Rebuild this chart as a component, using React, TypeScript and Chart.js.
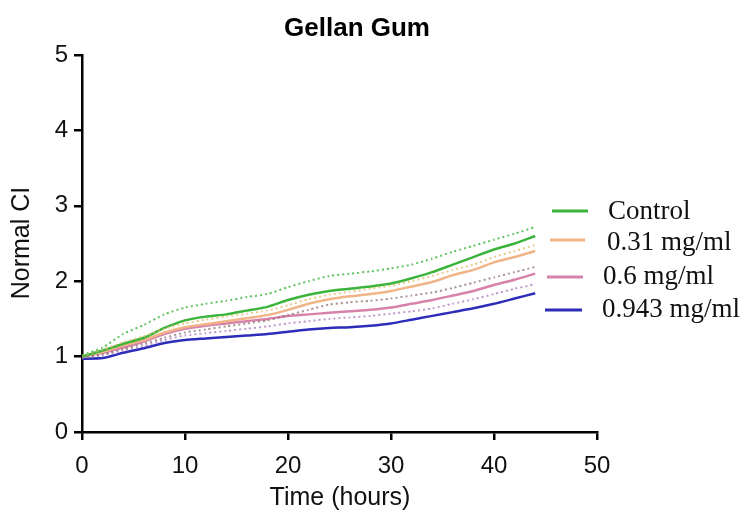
import React, { useEffect, useRef } from "react";
import { Chart, registerables } from "chart.js";

Chart.register(...registerables);

const hours = [0, 2, 4, 6, 8, 10, 12, 14, 16, 18, 20, 22, 24, 26, 28, 30, 32, 34, 36, 38, 40, 42, 44];

const controlMean = [1.0, 1.08, 1.17, 1.25, 1.38, 1.48, 1.53, 1.56, 1.61, 1.66, 1.75, 1.82, 1.87, 1.9, 1.93, 1.97, 2.04, 2.12, 2.22, 2.32, 2.42, 2.5, 2.6];
const controlUpper = [1.02, 1.12, 1.3, 1.42, 1.56, 1.65, 1.7, 1.74, 1.79, 1.83, 1.92, 2.0, 2.07, 2.1, 2.13, 2.17, 2.22, 2.3, 2.39, 2.47, 2.55, 2.63, 2.72];
const c031Mean = [1.0, 1.06, 1.15, 1.22, 1.32, 1.39, 1.43, 1.47, 1.51, 1.55, 1.62, 1.7, 1.76, 1.8, 1.83, 1.87, 1.93, 1.99, 2.08, 2.15, 2.25, 2.32, 2.4];
const c031Upper = [1.01, 1.09, 1.19, 1.27, 1.37, 1.44, 1.49, 1.53, 1.57, 1.61, 1.68, 1.76, 1.82, 1.86, 1.9, 1.94, 2.0, 2.07, 2.15, 2.22, 2.32, 2.4, 2.48];
const c031Lower = [0.98, 1.03, 1.1, 1.17, 1.25, 1.32, 1.36, 1.4, 1.44, 1.48, 1.55, 1.62, 1.69, 1.72, 1.74, 1.77, 1.81, 1.85, 1.91, 1.98, 2.05, 2.12, 2.19];
const c06Mean = [1.0, 1.05, 1.12, 1.2, 1.3, 1.37, 1.41, 1.44, 1.47, 1.5, 1.54, 1.56, 1.58, 1.6, 1.62, 1.65, 1.7, 1.75, 1.81, 1.87, 1.95, 2.02, 2.1];
const c06Lower = [0.98, 1.02, 1.08, 1.14, 1.22, 1.28, 1.31, 1.34, 1.37, 1.4, 1.44, 1.47, 1.5, 1.52, 1.54, 1.57, 1.6, 1.64, 1.7, 1.76, 1.83, 1.9, 1.96];
const c0943Mean = [0.97, 0.98, 1.05, 1.11, 1.18, 1.22, 1.24, 1.26, 1.28, 1.3, 1.33, 1.36, 1.38, 1.39, 1.41, 1.44, 1.49, 1.54, 1.59, 1.64, 1.7, 1.77, 1.84];

const xTicks = [0, 10, 20, 30, 40, 50];
const yTicks = [0, 1, 2, 3, 4, 5];

const legendLabels = ["Control", "0.31 mg/ml", "0.6 mg/ml", "0.943 mg/ml"];
const GREEN = "rgb(60,180,60)";
const ORANGE = "rgb(240,180,135)";
const PINK = "rgb(215,130,170)";
const BLUE = "rgb(45,45,185)";
const legendColors = [GREEN, ORANGE, PINK, BLUE];

const pts = (arr: number[]) => arr.map((v, i) => ({ x: hours[i], y: v }));

const overlay = {
  id: "overlay",
  afterDraw(chart: any) {
    const ctx = chart.ctx;
    ctx.save();
    ctx.fillStyle = "#000";
    ctx.textAlign = "center";
    ctx.textBaseline = "middle";
    ctx.font = "bold 26px 'Liberation Sans', Arial, sans-serif";
    ctx.fillText("Gellan Gum", 349, 21);
    ctx.fillStyle = "#111";
    ctx.font = "25px 'Liberation Sans', Arial, sans-serif";
    ctx.fillText("Time (hours)", 332, 490);
    ctx.save();
    ctx.translate(14, 235);
    ctx.rotate(-Math.PI / 2);
    ctx.fillText("Normal CI", 0, 0);
    ctx.restore();
    // legend
    const rows = [
      { ly: 203, x0: 544, x1: 580, tx: 600, ty: 204 },
      { ly: 232, x0: 542, x1: 577, tx: 599, ty: 235 },
      { ly: 269, x0: 539, x1: 575, tx: 595, ty: 269 },
      { ly: 302, x0: 537, x1: 574, tx: 594, ty: 302 },
    ];
    ctx.textAlign = "left";
    ctx.font = "27px 'Liberation Serif', 'Times New Roman', serif";
    rows.forEach((r, i) => {
      ctx.strokeStyle = legendColors[i];
      ctx.lineWidth = 3;
      ctx.beginPath();
      ctx.moveTo(r.x0, r.ly);
      ctx.lineTo(r.x1, r.ly);
      ctx.stroke();
      ctx.fillStyle = "#111";
      ctx.fillText(legendLabels[i], r.tx, r.ty);
    });
    ctx.restore();
  },
};

export default function App() {
  const ref = useRef<HTMLCanvasElement>(null);
  useEffect(() => {
    if (!ref.current) return;
    const solid = (data: number[], color: string) => ({
      data: pts(data),
      borderColor: color,
      borderWidth: 2.5,
      pointRadius: 0,
      fill: false,
      tension: 0.2,
    });
    const dotted = (data: number[], color: string) => ({
      data: pts(data),
      borderColor: color,
      borderWidth: 2,
      borderDash: [2, 3],
      pointRadius: 0,
      fill: false,
      tension: 0.2,
    });
    const chart = new Chart(ref.current, {
      type: "line",
      data: {
        datasets: [
          dotted(controlUpper, "rgba(60,180,60,0.8)"),
          dotted(c031Upper, "rgba(225,190,110,0.8)"),
          dotted(c031Lower, "rgba(140,110,110,0.75)"),
          dotted(c06Lower, "rgba(170,120,190,0.75)"),
          solid(controlMean, GREEN),
          solid(c031Mean, ORANGE),
          solid(c06Mean, PINK),
          solid(c0943Mean, BLUE),
        ] as any,
      },
      options: {
        animation: false,
        responsive: true,
        maintainAspectRatio: false,
        layout: { padding: { top: 47, right: 150, left: 0, bottom: 0 } },
        plugins: { legend: { display: false }, title: { display: false }, tooltip: { enabled: false } },
        scales: {
          x: {
            type: "linear",
            min: 0,
            max: 50,
            afterBuildTicks: (s: any) => { s.ticks = xTicks.map((v) => ({ value: v })); },
            afterFit: (s: any) => { s.height = 79; },
            border: { color: "#000", width: 2.5 },
            grid: { display: true, drawOnChartArea: false, drawTicks: true, tickLength: 8, color: "#000", lineWidth: 2.5 },
            ticks: { color: "#111", font: { family: "'Liberation Sans', Arial, sans-serif", size: 24 }, padding: 12, maxRotation: 0 },
          },
          y: {
            type: "linear",
            min: 0,
            max: 5,
            afterBuildTicks: (s: any) => { s.ticks = yTicks.map((v) => ({ value: v })); },
            afterFit: (s: any) => { s.width = 74; },
            border: { color: "#000", width: 2.5 },
            grid: { display: true, drawOnChartArea: false, drawTicks: true, tickLength: 8, color: "#000", lineWidth: 2.5 },
            ticks: { color: "#111", font: { family: "'Liberation Sans', Arial, sans-serif", size: 24 }, padding: 6 },
          },
        },
      },
      plugins: [overlay],
    } as any);
    return () => chart.destroy();
  }, []);
  return (
    <div style={{ width: 739, height: 503, position: "relative" }}>
      <canvas ref={ref} />
    </div>
  );
}
